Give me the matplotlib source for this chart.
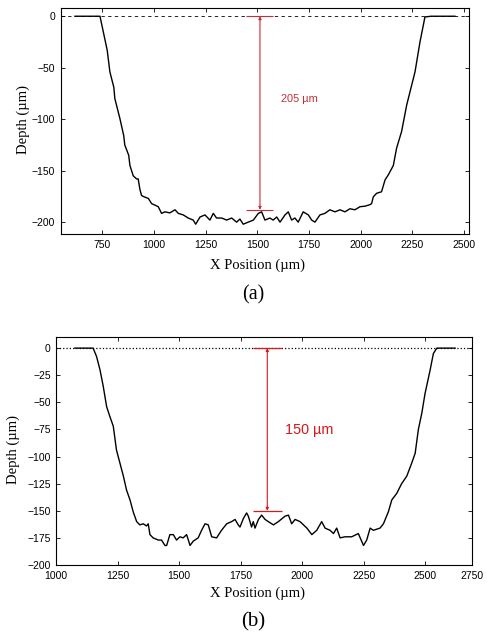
import matplotlib.pyplot as plt

# ---- panel (a): profile, x in um, depth in um ----
xa = [618, 680, 739, 755, 774, 787, 806, 811, 835, 854, 859, 878, 884, 900, 916,
      924, 932, 940, 948, 973, 989, 1005, 1021, 1037, 1053, 1077, 1102, 1118, 1142,
      1166, 1190, 1202, 1223, 1247, 1271, 1287, 1303, 1328, 1352, 1376, 1400, 1416,
      1432, 1456, 1481, 1505, 1521, 1537, 1561, 1577, 1594, 1610, 1634, 1650, 1666,
      1682, 1698, 1722, 1747, 1763, 1779, 1803, 1827, 1851, 1876, 1900, 1924, 1948,
      1972, 1997, 2021, 2045, 2053, 2061, 2077, 2101, 2118, 2134, 2158, 2174, 2198,
      2223, 2243, 2263, 2287, 2311, 2340, 2400, 2456]
ya = [0, 0, 0, -15, -33, -54, -69, -80, -99, -116, -125, -135, -145, -155, -158,
      -158, -168, -174, -175, -177, -182, -183.5, -185, -191.5, -190, -191, -188, -191.5, -193,
      -196, -198, -202, -195, -193, -198, -191.5, -196, -196, -198, -196, -200, -197,
      -202, -200, -198, -191.5, -190, -198, -196, -198, -195, -200, -193, -190, -198,
      -196, -200, -190, -193, -198, -200, -193, -191.5, -188, -190, -188, -190, -187,
      -188, -185, -184.5, -183, -182, -175.5, -172, -170.5, -159, -154, -145, -128, -112,
      -86, -70, -54, -25, -0.7, 0, 0, 0]

# ---- panel (b) ----
xb = [1076, 1150, 1164, 1178, 1191, 1205, 1218, 1232, 1245, 1259, 1273, 1286, 1300,
      1313, 1327, 1340, 1354, 1367, 1374, 1381, 1394, 1415, 1428, 1442, 1449, 1462,
      1476, 1489, 1503, 1516, 1530, 1544, 1557, 1577, 1591, 1605, 1618, 1632, 1652,
      1672, 1693, 1713, 1727, 1740, 1747, 1761, 1774, 1781, 1794, 1801, 1808, 1822,
      1835, 1849, 1862, 1883, 1903, 1930, 1944, 1957, 1971, 1991, 2005, 2019, 2039,
      2059, 2079, 2093, 2113, 2127, 2140, 2154, 2174, 2201, 2228, 2249, 2262, 2276,
      2289, 2316, 2330, 2350, 2364, 2384, 2404, 2425, 2445, 2459, 2472, 2486, 2499,
      2520, 2533, 2547, 2621]
yb = [0, 0, -7.7, -20, -35, -54, -63, -72, -94, -106, -118, -131, -140,
      -151, -160, -163, -162, -164, -162, -172, -175, -177, -177, -182, -182, -172,
      -172, -177, -174, -175, -172, -182, -178, -175, -168, -162, -163, -174, -175,
      -168, -162, -160, -158, -163, -165, -157, -152, -155, -165, -160, -166, -158,
      -154, -158, -160, -163, -160, -155, -154, -162, -158, -160, -163, -166, -172,
      -168, -160, -166, -168, -171, -166, -175, -174, -174, -171, -182, -177, -166,
      -168, -166, -162, -151, -140, -134, -125, -118, -106, -97, -75, -60, -42,
      -20, -5, 0, 0]

xticks_a = [750, 1000, 1250, 1500, 1750, 2000, 2250, 2500]
yticks_a = [0, -50, -100, -150, -200]
xticks_b = [1000, 1250, 1500, 1750, 2000, 2250, 2500, 2690]
xticklabels_b = ['1000', '1250', '1500', '1750', '2000', '2250', '2500', '2750']
yticks_b = [0, -25, -50, -75, -100, -125, -150, -175, -200]

depth_a = 205
depth_b = 150

tick_font = {'family': 'Liberation Sans', 'size': 7.5}
serif = 'Liberation Serif'


def style_axes(ax):
    ax.tick_params(direction='in', top=True, right=True, length=3, width=0.6,
                   pad=4, labelsize=7.5)
    for lab in ax.get_xticklabels() + ax.get_yticklabels():
        lab.set_fontfamily('Liberation Sans')
    for sp in ax.spines.values():
        sp.set_linewidth(0.8)


fig = plt.figure(figsize=(4.87, 6.4), dpi=100)

# panel (a)
ax1 = fig.add_axes([0.1246, 0.6336, 0.8384, 0.3539])
ax1.plot(xa, ya, color='black', linewidth=1.0)
ax1.axhline(0, color='black', linewidth=0.6, dashes=[4, 4])
ax1.set_xlim(549, 2524)
ax1.set_ylim(-212, 8)
ax1.set_xticks(xticks_a)
ax1.set_yticks(yticks_a)
style_axes(ax1)

red_a = '#c62d36'
ax1.hlines([0, -188], 1445, 1577, color=red_a, linewidth=0.8)
ax1.annotate('', xy=(1513, 0), xytext=(1513, -188),
             arrowprops=dict(arrowstyle='<|-|>', color=red_a, lw=0.8,
                             mutation_scale=4, shrinkA=0, shrinkB=0))
ax1.text(1614, -80, f'{depth_a} µm', color=red_a, fontsize=7.9,
         family='Liberation Sans', va='center', ha='left')

fig.text(257 / 487, 1 - 265.7 / 640, 'X Position (µm)', family=serif,
         fontsize=10.5, ha='center', va='center')
fig.text(23.3 / 487, 1 - 120 / 640, 'Depth (µm)', family=serif,
         fontsize=10.5, ha='center', va='center', rotation=90)
fig.text(253 / 487, 1 - 295 / 640, '(a)', family=serif, fontsize=14.5,
         ha='center', va='center')

# panel (b)
ax2 = fig.add_axes([0.1154, 0.1172, 0.8538, 0.3558])
ax2.plot(xb, yb, color='black', linewidth=1.0)
ax2.axhline(0, color='black', linewidth=0.9, linestyle=':')
ax2.set_xlim(1000, 2690)
ax2.set_ylim(-200, 10)
ax2.set_xticks(xticks_b)
ax2.set_xticklabels(xticklabels_b)
ax2.set_yticks(yticks_b)
style_axes(ax2)

red_b = '#d7191c'
ax2.hlines([0, -150], 1799, 1917, color=red_b, linewidth=0.9)
ax2.annotate('', xy=(1858, 0), xytext=(1858, -150),
             arrowprops=dict(arrowstyle='<|-|>', color=red_b, lw=0.8,
                             mutation_scale=4, shrinkA=0, shrinkB=0))
ax2.text(1930, -75.4, f'{depth_b} µm', color=red_b, fontsize=10.4,
         family='Liberation Sans', va='center', ha='left')

fig.text(257 / 487, 1 - 593.3 / 640, 'X Position (µm)', family=serif,
         fontsize=10.5, ha='center', va='center')
fig.text(13.7 / 487, 1 - 450 / 640, 'Depth (µm)', family=serif,
         fontsize=10.5, ha='center', va='center', rotation=90)
fig.text(253 / 487, 1 - 621.7 / 640, '(b)', family=serif, fontsize=15,
         ha='center', va='center')

fig.savefig('out.png', dpi=100)
